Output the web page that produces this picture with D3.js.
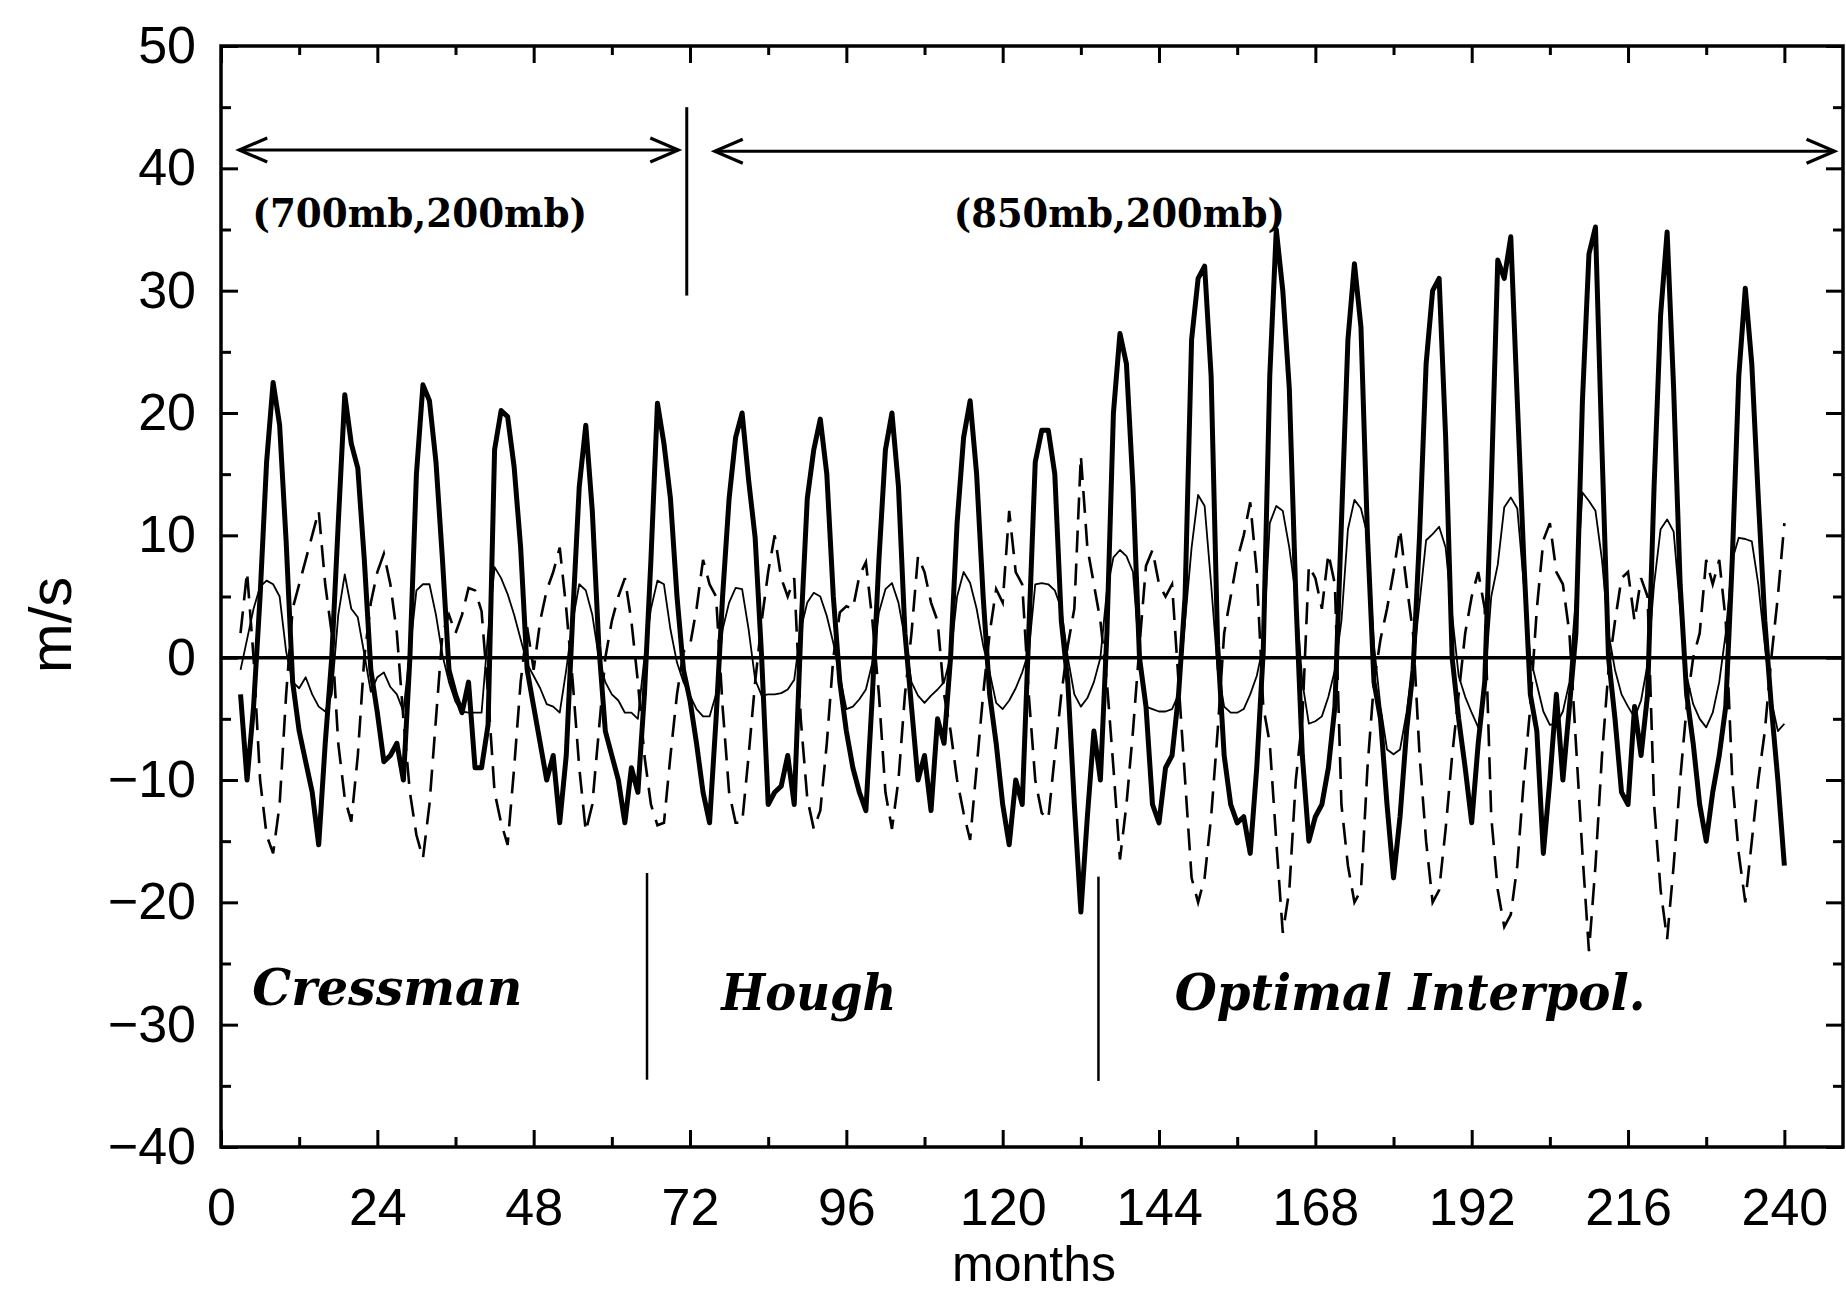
<!DOCTYPE html>
<html><head><meta charset="utf-8">
<script src="https://cdn.jsdelivr.net/npm/d3@7"></script>
<style>
html,body{margin:0;padding:0;background:#fff;}
svg{display:block;background:#fff;}
</style></head><body>
<svg id="chart" width="1846" height="1297"></svg>
<script>
// ---------------- data (monthly values, m/s) ----------------
const startMonth = 3;   // first plotted month
const thickSeries = [
 -3, -10, -4, 5, 16, 22.5, 19, 9.5, -2, -6, -8.5, -11,
 -15.3, -7, 0, 11, 21.5, 17.5, 15.5, 8, -1, -4.5, -8.5, -8,
 -7, -10, 0, 15, 22.3, 21, 16, 8, -1, -3, -4.5, -2,
 -9, -9, -5.5, 17, 20.2, 19.7, 15.6, 9, -1, -4, -7, -10,
 -8, -13.5, -8, 3.5, 14, 19, 12, 1, -6, -8, -10, -13.5,
 -9, -11, -3, 8, 20.8, 17.5, 13, 5, -1, -3.5, -7, -11,
 -13.5, -5, 5, 13, 18, 20, 14.5, 9.8, 0, -12, -11, -10.5,
 -8, -12, 2, 13, 17, 19.5, 15, 5, -2, -6, -9, -11,
 -12.5, -3, 8, 17, 20, 14, 2, -4, -10, -8, -12.5, -5,
 -7, 0, 11, 18, 21, 15, 5, -3, -7, -12, -15.3, -10,
 -12, 2, 16, 18.6, 18.6, 15, 3, -2, -12, -20.8, -13, -6,
 -10, 2, 20, 26.5, 24, 14, 0, -4, -12, -13.5, -9, -8,
 -3, 5, 26, 31, 32, 23, 1, -8, -12, -13.5, -13, -16,
 -9, 0.5, 23, 35, 30, 22, 5, -8, -15, -13, -12, -9,
 -4, 11, 26, 32.2, 27, 10, -2, -5, -12, -18, -13, -6,
 -1, 10, 24, 30, 31, 18, 0, -5, -9, -13.5, -7, -2,
 14, 32.5, 31, 34.4, 21, 8, -3, -6, -16, -10, -3, -10,
 -4, 2, 21, 33, 35.2, 17, 0, -5, -11, -12, -4, -8,
 -3, 14, 28, 34.8, 22, 6, -3, -7, -12, -15, -11, -8,
 -4, 8, 23, 30.2, 24, 13, 3, -4, -10, -17
];
const thinSeries = [
 -1, 1.5, 4, 5.8, 6.3, 6, 5, 0.5, -2, -2.5, -1.6, -3,
 -4, -4.4, -3, 3.5, 6.8, 4, 3.3, 0.3, -2.8, -1.6, -1.2, -2.4,
 -3, -4.4, 0.5, 5.5, 6, 6, 3.5, 0.2, -2, -3.6, -4.4, -4.5,
 -4.5, -4.5, 2, 7.4, 6.5, 5.2, 3.5, 1.5, -0.5, -1.5, -2.5, -3.8,
 -4, -4.5, -1, 3, 6, 5.5, 3.5, 0, -2, -3, -3.5, -4.5,
 -4.5, -5, 0, 4, 6.3, 6, 2.3, -0.4, -2, -3.1, -4.2, -4.8,
 -4.8, -3, 2.3, 4.5, 5.7, 5.6, 2.3, -1.8, -3.1, -3, -3, -2.9,
 -2.6, -1.8, 2.3, 4.5, 5.3, 5, 3.4, 1.2, -1.5, -4.2, -4, -3.4,
 -2.6, -0.4, 3.7, 5.6, 6.1, 4.5, 1.5, -2, -3.1, -3.7, -3.1, -2.6,
 -2, 0.1, 5, 7, 6.1, 4, 1, -1.2, -3.7, -4.2, -3.5, -2.5,
 -1.2, 0.5, 6, 6.1, 6, 5.5, 4, 0, -3, -4, -3.3, -2,
 0, 5.5, 8.2, 8.8, 8.3, 7, 0, -4, -4.2, -4.4, -4.4, -4.2,
 -3, 3, 9, 13.3, 12.4, 6, -1, -4, -4.5, -4.5, -4.2, -3,
 -1.5, 1, 11, 12.4, 12, 9, 5, -2, -5.4, -5.2, -4.8, -3.2,
 -1, 3, 10.5, 12.9, 12.2, 10, 1, -4, -7.5, -7.9, -7.5, -4.5,
 -0.5, 4.5, 9.6, 10.1, 10.7, 9, 3.5, -1.5, -3.2, -4.5, -5.7, -2,
 5, 7.6, 12.3, 13.1, 12.2, 6, 0, -2.2, -4.4, -5.5, -5.4, -4.4,
 -2, 5, 13.5, 12.8, 12, 8, 2, -1, -3, -4, -4.9, -3.5,
 -0.5, 6, 10.5, 11.3, 10.3, 4, -1.5, -3.8, -5, -5.7, -4.5, -2,
 2, 8, 9.8, 9.7, 9.5, 6, 1, -3.5, -6, -5.4
];
const dashedSeries = [
 2, 7, 0, -10, -14.5, -16, -12, -3, 4, 6, 8, 10,
 12, 6, 2, -7, -11.5, -13.4, -8, 0, 4.5, 7, 8.5, 6,
 2, -5, -11, -14.5, -16.4, -12, -5, 2, 3.5, 2, 3.5, 5.7,
 5.5, 3.8, -3, -11, -13.5, -15.3, -9, -2, 2.5, -1, 3, 5.5,
 7, 9, 4, -2, -9, -14.2, -12, -6, 0, 3, 5, 6.5,
 3, -2, -8, -12, -13.7, -13.5, -8, -3, 0.5, 1, 4, 8,
 6, 5, -4, -11, -13.5, -13.5, -8, -2, 3, 7, 10, 6.5,
 5, 6.5, -5, -11.5, -14, -12.5, -7, 0, 3.7, 4.2, 4, 6.7,
 7.8, 3, -3, -11, -14, -10, -3, 2, 8.3, 7, 4.5, 3,
 -3, -6, -10, -12.7, -14.9, -9, -3, 2, 5.6, 4.5, 12, 7,
 6, -3, -10, -12.7, -13.2, -8, -3, 1, 4, 16.5, 9, 6,
 3, -2, -9, -16.5, -12, -6, 1, 7.5, 8.8, 6, 5, 6,
 -2, -10, -18, -20, -18, -13, -6, 2, 5, 8, 10, 12.7,
 7, -4, -7, -15, -22.5, -19, -10, -5, 7.5, 6.5, 4, 8.5,
 6, -12, -17, -20, -19, -9, -2, 1.5, 4, 7, 10.5, 6,
 2, -8, -15, -20, -19, -14, -8, -3, 2, 5, 7, 4,
 -13, -19, -22, -21, -17, -10, -4, 4, 9.6, 11, 7, 6,
 2, -7, -16, -24, -17, -8, -1, 3, 6.5, 7, 3, 6.5,
 5, -12, -19, -23, -17, -10, -4, 0, 2, 8, 6, 8,
 3, -10, -16, -20, -15, -10, -6, 0, 5, 11
];
const xTickLabels = [0, 24, 48, 72, 96, 120, 144, 168, 192, 216, 240];
const xMinorTicks = [12, 36, 60, 84, 108, 132, 156, 180, 204, 228];
const yTickLabels = [-40, -30, -20, -10, 0, 10, 20, 30, 40, 50];
const yMinorTicks = [-35, -25, -15, -5, 5, 15, 25, 35, 45];
const levelLabels = ["(700mb,200mb)", "(850mb,200mb)"];
const methodLabels = ["Cressman", "Hough", "Optimal Interpol."];
const xTitle = "months";
const yTitle = "m/s";

// ---------------- layout ----------------
const svg = d3.select("#chart");
const X0 = 221, X1 = 1843, Y0 = 46, Y1 = 1147;
const x = d3.scaleLinear().domain([0, 249]).range([X0, X1]);
const y = d3.scaleLinear().domain([-40, 50]).range([Y1, Y0]);
const sans = "'Liberation Sans', Arial, Helvetica, sans-serif";
const serif = "'DejaVu Serif', 'Liberation Serif', serif";

function styleAxis(g, fs) {
  g.selectAll("path.domain").remove();
  g.selectAll(".tick line").attr("stroke", "#000").attr("stroke-width", 3);
  g.selectAll(".tick text").attr("fill", "#000")
    .attr("font-family", sans).attr("font-size", fs || 52);
}

// bottom axis
svg.append("g").attr("transform", `translate(0,${Y1})`)
  .call(d3.axisBottom(x).tickValues(xTickLabels).tickSizeInner(-17).tickSizeOuter(0).tickPadding(41).tickFormat(d3.format("d")))
  .call(g => styleAxis(g));
svg.append("g").attr("transform", `translate(0,${Y1})`)
  .call(d3.axisBottom(x).tickValues(xMinorTicks).tickSizeInner(-10).tickSizeOuter(0).tickFormat(""))
  .call(g => styleAxis(g));
// top axis
svg.append("g").attr("transform", `translate(0,${Y0})`)
  .call(d3.axisTop(x).tickValues(xTickLabels).tickSizeInner(-17).tickSizeOuter(0).tickFormat(""))
  .call(g => styleAxis(g));
svg.append("g").attr("transform", `translate(0,${Y0})`)
  .call(d3.axisTop(x).tickValues(xMinorTicks).tickSizeInner(-9).tickSizeOuter(0).tickFormat(""))
  .call(g => styleAxis(g));
// left axis
svg.append("g").attr("transform", `translate(${X0},0)`)
  .call(d3.axisLeft(y).tickValues(yTickLabels).tickSizeInner(-17).tickSizeOuter(0).tickPadding(25))
  .call(g => styleAxis(g));
svg.append("g").attr("transform", `translate(${X0},0)`)
  .call(d3.axisLeft(y).tickValues(yMinorTicks).tickSizeInner(-10).tickSizeOuter(0).tickFormat(""))
  .call(g => styleAxis(g));
// right axis
svg.append("g").attr("transform", `translate(${X1},0)`)
  .call(d3.axisRight(y).tickValues(yTickLabels).tickSizeInner(-17).tickSizeOuter(0).tickFormat(""))
  .call(g => styleAxis(g));
svg.append("g").attr("transform", `translate(${X1},0)`)
  .call(d3.axisRight(y).tickValues(yMinorTicks).tickSizeInner(-10).tickSizeOuter(0).tickFormat(""))
  .call(g => styleAxis(g));

// frame
svg.append("rect").attr("x", X0).attr("y", Y0).attr("width", X1 - X0).attr("height", Y1 - Y0)
  .attr("fill", "none").attr("stroke", "#000").attr("stroke-width", 3.5);

// zero line
svg.append("line").attr("x1", x(0)).attr("x2", X1).attr("y1", y(0)).attr("y2", y(0))
  .attr("stroke", "#000").attr("stroke-width", 3.5);

// series
const line = d3.line().x((d, i) => x(startMonth + i)).y(d => y(d));
svg.append("path").datum(dashedSeries).attr("d", line).attr("fill", "none")
  .attr("stroke", "#000").attr("stroke-width", 2.6).attr("stroke-dasharray", "22,11");
svg.append("path").datum(thinSeries).attr("d", line).attr("fill", "none")
  .attr("stroke", "#000").attr("stroke-width", 1.8).attr("stroke-linejoin", "round");
svg.append("path").datum(thickSeries).attr("d", line).attr("fill", "none")
  .attr("stroke", "#000").attr("stroke-width", 5).attr("stroke-linejoin", "round");

// ---------------- annotations ----------------
const ann = svg.append("g");
function vline(m, v1, v2, w) {
  ann.append("line").attr("x1", x(m)).attr("x2", x(m)).attr("y1", y(v1)).attr("y2", y(v2))
    .attr("stroke", "#000").attr("stroke-width", w);
}
function dblArrow(m1, m2, v) {
  const yy = y(v), a = x(m1), b = x(m2);
  ann.append("line").attr("x1", a).attr("x2", b).attr("y1", yy).attr("y2", yy)
    .attr("stroke", "#000").attr("stroke-width", 3);
  ann.append("path").attr("d", `M${a + 28},${yy - 12} L${a},${yy} L${a + 28},${yy + 12}`)
    .attr("fill", "none").attr("stroke", "#000").attr("stroke-width", 3.2);
  ann.append("path").attr("d", `M${b - 28},${yy - 12} L${b},${yy} L${b - 28},${yy + 12}`)
    .attr("fill", "none").attr("stroke", "#000").attr("stroke-width", 3.2);
}
dblArrow(2.8, 70.2, 41.5);
dblArrow(75.8, 247.7, 41.4);
vline(71.5, 45, 29.6, 3);
vline(65.4, -17.6, -34.5, 2.5);
vline(134.7, -17.9, -34.6, 2.5);

function label(txt, m, v, fs, len, italic) {
  ann.append("text").attr("x", x(m)).attr("y", y(v)).text(txt)
    .attr("font-family", serif).attr("font-weight", "bold")
    .attr("font-style", italic ? "italic" : "normal")
    .attr("font-size", fs).attr("textLength", len).attr("lengthAdjust", "spacingAndGlyphs")
    .attr("fill", "#000");
}
label(levelLabels[0], 4.8, 35.2, 40, 335, false);
label(levelLabels[1], 112.5, 35.2, 40, 331, false);
label(methodLabels[0], 4.8, -28.4, 50, 270, true);
label(methodLabels[1], 76.8, -28.8, 50, 175, true);
label(methodLabels[2], 146.4, -28.8, 50, 471, true);

// axis titles
svg.append("text").attr("x", (X0 + X1) / 2 + 2).attr("y", 1281).attr("text-anchor", "middle")
  .attr("font-family", sans).attr("font-size", 50).attr("fill", "#000").text(xTitle);
svg.append("text").attr("transform", "translate(71,625) rotate(-90)").attr("text-anchor", "middle")
  .attr("font-family", sans).attr("font-size", 60).attr("fill", "#000").text(yTitle);
</script>
</body></html>
